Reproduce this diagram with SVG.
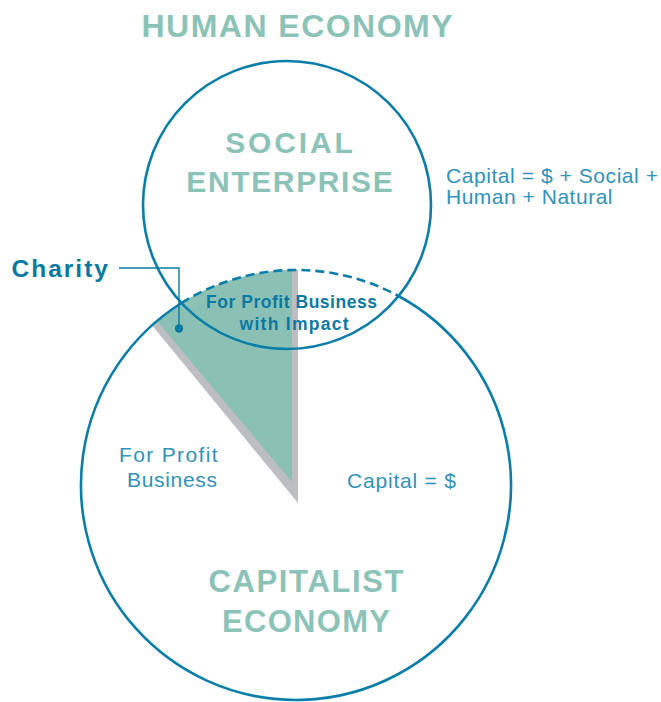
<svg xmlns="http://www.w3.org/2000/svg" width="661" height="702" viewBox="0 0 661 702">
  <style>
    .ring { fill: none; stroke: #0a7ea8; stroke-width: 2.6; }
    .dashed { stroke-dasharray: 9 5; }
    .heading { font-family: "Liberation Sans", Arial, sans-serif; font-weight: bold; fill: #8cc3b8; text-anchor: middle; }
    .note { font-family: "Liberation Sans", Arial, sans-serif; fill: #2f93ba; font-size: 21px; }
    .strong { font-family: "Liberation Sans", Arial, sans-serif; font-weight: bold; fill: #0b79a2; }
    .leader { fill: none; stroke: #0b7aa3; stroke-width: 1.4; }
  </style>

  <rect width="661" height="702" fill="#ffffff"/>

  <!-- Charity wedge: grey shadow under the teal slice -->
  <g id="charity-wedge">
    <path d="M298 503 L152 325.3 A215 215 0 0 1 298 270 Z" fill="#bdbec1"/>
    <path d="M292 482 L157 321 A215 215 0 0 1 292 270.04 Z" fill="#8bc0b4"/>
  </g>

  <!-- Social enterprise circle -->
  <g id="social-enterprise">
    <circle class="ring" cx="287" cy="205" r="144"/>
    <text class="heading" x="289" y="152.5" font-size="30" textLength="127.5" lengthAdjust="spacing">SOCIAL</text>
    <text class="heading" x="289.5" y="191.5" font-size="30" textLength="206.5" lengthAdjust="spacing">ENTERPRISE</text>
  </g>

  <!-- Capitalist economy circle: dashed where it runs inside the social circle -->
  <g id="capitalist-economy">
    <path class="ring" d="M398.5 296 A215 215 0 1 1 181.5 303"/>
    <path class="ring dashed" d="M181.5 303 A215 215 0 0 1 398.5 296"/>
    <text class="heading" x="306" y="591.5" font-size="31" textLength="195" lengthAdjust="spacing">CAPITALIST</text>
    <text class="heading" x="306" y="631.5" font-size="31" textLength="168" lengthAdjust="spacing">ECONOMY</text>
  </g>

  <!-- Outer title -->
  <g id="human-economy">
    <text class="heading" x="297" y="37.3" font-size="32" textLength="311" lengthAdjust="spacing">HUMAN ECONOMY</text>
  </g>

  <!-- Capital notes -->
  <g id="human-capital">
    <text class="note" x="446" y="183.3" textLength="212" lengthAdjust="spacing">Capital = $ + Social +</text>
    <text class="note" x="446" y="204.3" textLength="166.5" lengthAdjust="spacing">Human + Natural</text>
  </g>
  <g id="capitalist-capital">
    <text class="note" x="347" y="488.3" textLength="109" lengthAdjust="spacing">Capital = $</text>
  </g>

  <!-- For profit business -->
  <g id="for-profit-business">
    <text class="note" x="119" y="461.7" textLength="98.5" lengthAdjust="spacing">For Profit</text>
    <text class="note" x="127" y="487.3" textLength="90" lengthAdjust="spacing">Business</text>
  </g>

  <!-- For profit business with impact -->
  <g id="for-profit-impact">
    <text class="strong" x="206" y="308.3" font-size="17.5" textLength="171" lengthAdjust="spacing">For Profit Business</text>
    <text class="strong" x="239.5" y="330" font-size="17.5" textLength="109" lengthAdjust="spacing">with Impact</text>
  </g>

  <!-- Charity label -->
  <g id="charity">
    <text class="strong" x="11.5" y="276.7" font-size="24.5" textLength="96.5" lengthAdjust="spacing">Charity</text>
  </g>

  <!-- Connectors -->
  <g id="connectors">
    <path class="leader" d="M119 268 H179 V327"/>
    <circle cx="179" cy="328.5" r="4.2" fill="#0b7aa3"/>
  </g>
</svg>
